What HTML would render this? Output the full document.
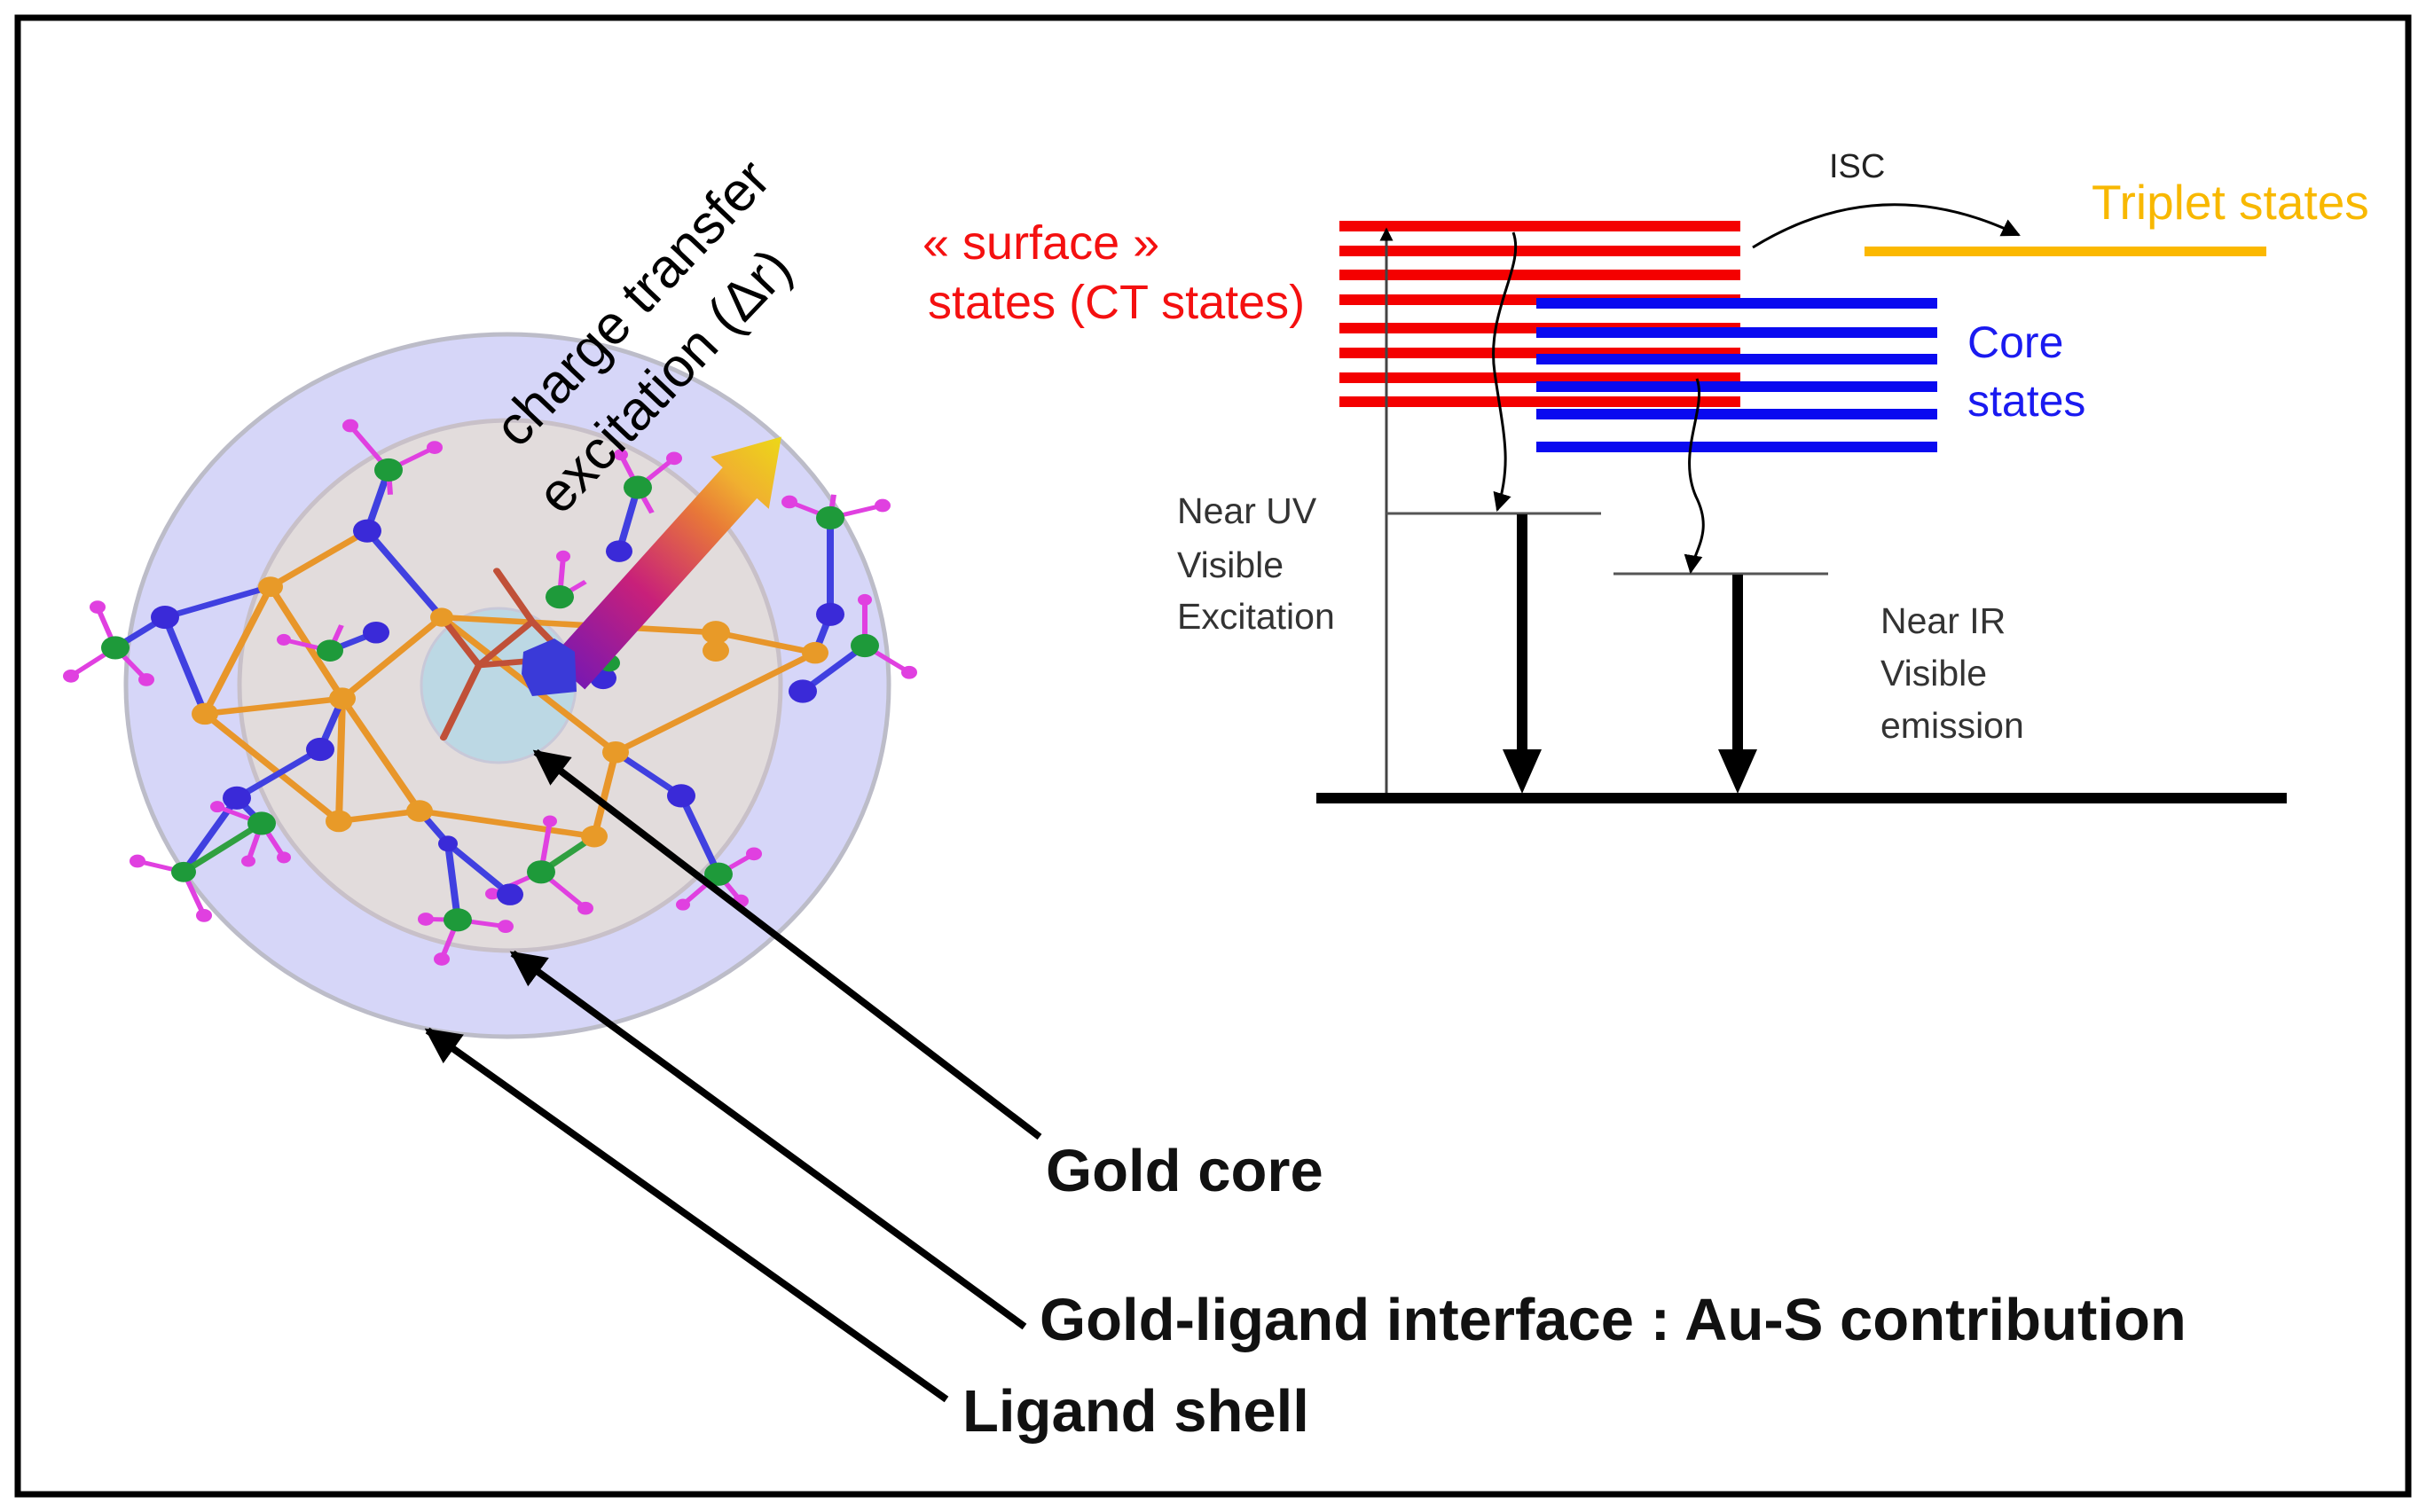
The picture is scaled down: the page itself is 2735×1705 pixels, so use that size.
<!DOCTYPE html>
<html><head><meta charset="utf-8"><style>
html,body{margin:0;padding:0;background:#fff}
svg{display:block}
text{font-family:"Liberation Sans",sans-serif}
</style></head><body>
<svg width="2735" height="1705" viewBox="0 0 2735 1705" xmlns="http://www.w3.org/2000/svg">
<defs>
<linearGradient id="ga" x1="0" y1="0" x2="1" y2="0">
<stop offset="0" stop-color="#7a18b0"/><stop offset="0.35" stop-color="#c8207a"/><stop offset="0.65" stop-color="#e87838"/><stop offset="0.8" stop-color="#f0b030"/><stop offset="1" stop-color="#ecd818"/>
</linearGradient>
<marker id="ah" viewBox="0 0 10 10" refX="9" refY="5" markerWidth="5" markerHeight="5" orient="auto"><path d="M0,0 L10,5 L0,10 z" fill="#000"/></marker>
<marker id="ahs" viewBox="0 0 10 10" refX="9" refY="5" markerWidth="7" markerHeight="7" orient="auto"><path d="M0,0 L10,5 L0,10 z" fill="#000"/></marker>
</defs>
<rect x="20" y="20" width="2695" height="1665" fill="#fff" stroke="#000" stroke-width="7"/>

<ellipse cx="572" cy="773" rx="430" ry="396" fill="#d6d6f8" stroke="#bcbcc8" stroke-width="5"/>
<ellipse cx="575" cy="773" rx="305" ry="299" fill="#e2dcdc" stroke="#c8c0c8" stroke-width="5"/>
<circle cx="562" cy="773" r="87" fill="#bcd8e4" stroke="#c8c8d8" stroke-width="3"/>

<g transform="translate(0,300) scale(1,0.8183) translate(0,-300)">
<g stroke-width="8" fill="none" stroke-linecap="round">
<g stroke="#e8962a">
<path d="M305,742 L231,917 L382,1065 L473,1051 L386,896 L305,742"/>
<path d="M231,917 L386,896 L498,784 L694,970 L670,1086 L473,1051"/>
<path d="M807,805 L919,833 L694,970"/>
<path d="M498,784 L807,805"/>
<path d="M382,1065 L386,896"/>
<path d="M305,742 L414,665"/>
</g>
<g stroke="#c05038"><path d="M498,784 L540,850 L600,790 L640,840 L540,850 M540,850 L498,784 M600,790 L560,720 M540,850 L500,950"/></g>
<g stroke="#4040e0">
<path d="M414,665 L438,581 M414,665 L498,784 M186,784 L305,742 M186,784 L130,826 M186,784 L231,917"/>
<path d="M424,805 L372,830 M361,966 L386,896 M361,966 L267,1033 M267,1033 L295,1068 M267,1033 L207,1135"/>
<path d="M698,693 L719,605 M936,780 L936,647 M936,780 L919,833 M905,886 L975,823 M768,1030 L810,1138 M768,1030 L694,970"/>
<path d="M575,1166 L505,1096 L473,1051 M505,1096 L516,1201 M680,868 L687,847"/>
</g>
<g stroke="#30a040"><path d="M295,1068 L207,1135 M610,1135 L670,1086"/></g>
</g>
<g stroke="#e040e0" stroke-width="6">
<path d="M438,581 L395,520 M438,581 L490,550 M438,581 L440,615"/>
<path d="M719,605 L760,565 M719,605 L735,640 M719,605 L700,560"/>
<path d="M936,647 L890,625 M936,647 L995,630 M936,647 L940,615"/>
<path d="M130,826 L110,770 M130,826 L80,865 M130,826 L165,870"/>
<path d="M975,823 L1025,860 M975,823 L975,760"/>
<path d="M631,756 L635,700 M631,756 L660,735"/>
<path d="M372,830 L320,815 M372,830 L385,795"/>
<path d="M295,1068 L280,1120 M295,1068 L320,1115 M295,1068 L245,1045"/>
<path d="M207,1135 L155,1120 M207,1135 L230,1195"/>
<path d="M610,1135 L620,1065 M610,1135 L660,1185 M610,1135 L555,1165"/>
<path d="M516,1201 L480,1200 M516,1201 L570,1210 M516,1201 L498,1255"/>
<path d="M810,1138 L850,1110 M810,1138 L835,1175 M810,1138 L770,1180"/>
</g>
<g fill="#e040e0">
<circle cx="395" cy="520" r="9"/><circle cx="490" cy="550" r="9"/><circle cx="760" cy="565" r="9"/><circle cx="700" cy="560" r="8"/>
<circle cx="890" cy="625" r="9"/><circle cx="995" cy="630" r="9"/><circle cx="110" cy="770" r="9"/><circle cx="80" cy="865" r="9"/><circle cx="165" cy="870" r="9"/>
<circle cx="1025" cy="860" r="9"/><circle cx="975" cy="760" r="8"/><circle cx="635" cy="700" r="8"/><circle cx="320" cy="815" r="8"/>
<circle cx="280" cy="1120" r="8"/><circle cx="320" cy="1115" r="8"/><circle cx="245" cy="1045" r="8"/><circle cx="155" cy="1120" r="9"/><circle cx="230" cy="1195" r="9"/>
<circle cx="620" cy="1065" r="8"/><circle cx="660" cy="1185" r="9"/><circle cx="555" cy="1165" r="8"/><circle cx="480" cy="1200" r="9"/><circle cx="570" cy="1210" r="9"/><circle cx="498" cy="1255" r="9"/>
<circle cx="850" cy="1110" r="9"/><circle cx="835" cy="1175" r="9"/><circle cx="770" cy="1180" r="8"/>
</g>
<g fill="#e89a28">
<circle cx="305" cy="742" r="14"/><circle cx="231" cy="917" r="15"/><circle cx="386" cy="896" r="15"/><circle cx="382" cy="1065" r="15"/><circle cx="473" cy="1051" r="15"/>
<circle cx="670" cy="1086" r="15"/><circle cx="694" cy="970" r="15"/><circle cx="807" cy="805" r="16"/><circle cx="807" cy="830" r="15"/><circle cx="919" cy="833" r="15"/><circle cx="498" cy="784" r="13"/>
</g>
<g fill="#3a2ad8">
<circle cx="414" cy="665" r="16"/><circle cx="186" cy="784" r="16"/><circle cx="698" cy="693" r="15"/><circle cx="936" cy="780" r="16"/><circle cx="905" cy="886" r="16"/>
<circle cx="424" cy="805" r="15"/><circle cx="361" cy="966" r="16"/><circle cx="267" cy="1033" r="16"/><circle cx="768" cy="1030" r="16"/><circle cx="575" cy="1166" r="15"/><circle cx="680" cy="868" r="15"/><circle cx="505" cy="1096" r="11"/>
</g>
<g fill="#1e9a3a">
<circle cx="438" cy="581" r="16"/><circle cx="719" cy="605" r="16"/><circle cx="936" cy="647" r="16"/><circle cx="130" cy="826" r="16"/><circle cx="975" cy="823" r="16"/>
<circle cx="631" cy="756" r="16"/><circle cx="372" cy="830" r="15"/><circle cx="295" cy="1068" r="16"/><circle cx="207" cy="1135" r="14"/><circle cx="610" cy="1135" r="16"/>
<circle cx="516" cy="1201" r="16"/><circle cx="810" cy="1138" r="16"/><circle cx="687" cy="847" r="12"/>
</g>
</g>

<g transform="translate(640,760) rotate(-48)">
<path d="M0,-26 L290,-26 L290,-44 L360,0 L290,44 L290,26 L0,26 Z" fill="url(#ga)"/>
</g>
<path d="M590,735 L625,720 L648,735 L650,780 L600,785 L588,760 Z" fill="#3a3ad8"/>

<text x="0" y="0" font-size="62" text-anchor="middle" transform="translate(728,356) rotate(-46.5)">charge transfer</text>
<text x="0" y="0" font-size="62" text-anchor="middle" transform="translate(764,444) rotate(-46.5)">excitation (Δr)</text>

<g stroke="#000" stroke-width="8" marker-end="url(#ah)">
<line x1="1172" y1="1282" x2="604" y2="848"/>
<line x1="1155" y1="1496" x2="578" y2="1075"/>
<line x1="1067" y1="1578" x2="482" y2="1162"/>
</g>
<g font-size="67" font-weight="bold" fill="#111">
<text x="1179" y="1343">Gold core</text>
<text x="1172" y="1511">Gold-ligand interface : Au-S contribution</text>
<text x="1085" y="1614">Ligand shell</text>
</g>

<g fill="#f40000">
<rect x="1510" y="249" width="452" height="12"/><rect x="1510" y="277" width="452" height="12"/><rect x="1510" y="304" width="452" height="12"/><rect x="1510" y="332" width="452" height="12"/>
<rect x="1510" y="364" width="452" height="12"/><rect x="1510" y="392" width="452" height="12"/><rect x="1510" y="420" width="452" height="12"/><rect x="1510" y="447" width="452" height="12"/>
</g>
<g fill="#0a0af0">
<rect x="1732" y="336" width="452" height="12"/><rect x="1732" y="369" width="452" height="12"/><rect x="1732" y="399" width="452" height="12"/>
<rect x="1732" y="430" width="452" height="12"/><rect x="1732" y="461" width="452" height="12"/><rect x="1732" y="498" width="452" height="12"/>
</g>
<rect x="2102" y="278" width="453" height="11" fill="#fbb800"/>
<path d="M1976,279 Q2120,190 2276,265" fill="none" stroke="#000" stroke-width="3" marker-end="url(#ahs)"/>
<text x="2062" y="200" font-size="38" fill="#222">ISC</text>
<text x="2358" y="247" font-size="55" fill="#f8b800">Triplet states</text>
<text x="2218" y="403" font-size="50" fill="#1a1af0">Core</text>
<text x="2218" y="469" font-size="50" fill="#1a1af0">states</text>
<text x="1040" y="292" font-size="54" fill="#f41010">« surface »</text>
<text x="1046" y="359" font-size="54" fill="#f41010">states (CT states)</text>

<g font-size="41" fill="#333">
<text x="1327" y="590">Near UV</text><text x="1327" y="651">Visible</text><text x="1327" y="709">Excitation</text>
<text x="2120" y="714">Near IR</text><text x="2120" y="773">Visible</text><text x="2120" y="832">emission</text>
</g>

<line x1="1563" y1="898" x2="1563" y2="258" stroke="#444" stroke-width="3" marker-end="url(#ah)"/>
<line x1="1563" y1="579" x2="1805" y2="579" stroke="#555" stroke-width="3"/>
<line x1="1819" y1="647" x2="2061" y2="647" stroke="#555" stroke-width="3"/>
<path d="M1706,262 C1720,300 1675,350 1685,420 C1695,490 1705,520 1688,575" fill="none" stroke="#000" stroke-width="3" marker-end="url(#ahs)"/>
<path d="M1913,427 C1925,460 1890,510 1912,560 C1932,600 1910,620 1906,645" fill="none" stroke="#000" stroke-width="3" marker-end="url(#ahs)"/>
<rect x="1710" y="580" width="12" height="270" fill="#000"/>
<path d="M1694,845 L1738,845 L1716,895 Z" fill="#000"/>
<rect x="1953" y="648" width="12" height="202" fill="#000"/>
<path d="M1937,845 L1981,845 L1959,895 Z" fill="#000"/>
<rect x="1484" y="894" width="1094" height="12" fill="#000"/>
</svg>
</body></html>
